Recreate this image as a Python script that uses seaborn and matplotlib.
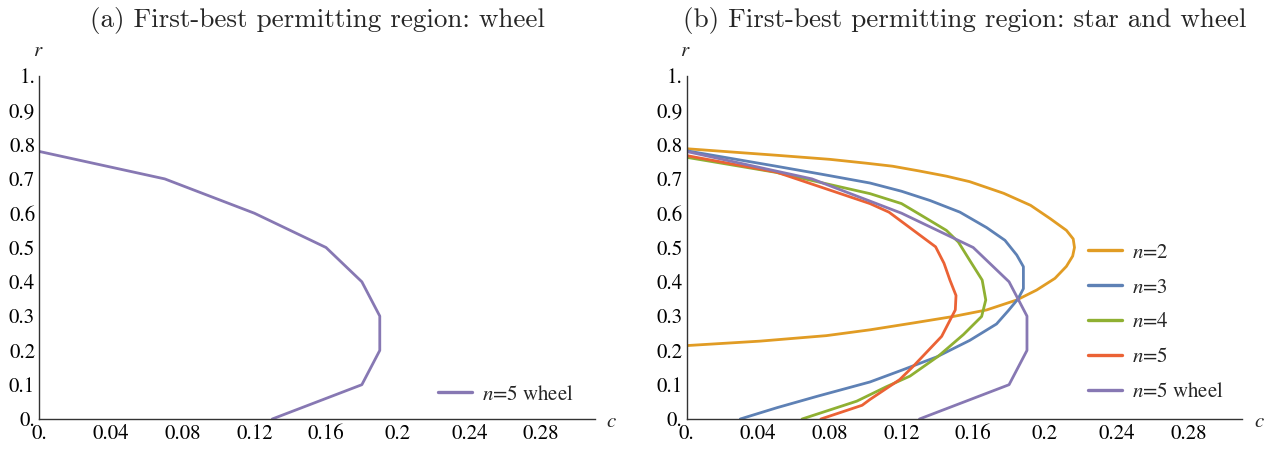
import numpy as np
import pandas as pd
import seaborn as sns
import matplotlib
matplotlib.use("Agg")
import matplotlib.pyplot as plt
from matplotlib.ticker import FixedLocator, FixedFormatter
from matplotlib.lines import Line2D

# ---------------- data ----------------
wheel_c = [0.0, 0.07, 0.12, 0.16, 0.18, 0.19, 0.19, 0.18, 0.13]
wheel_r = [0.78, 0.70, 0.60, 0.50, 0.40, 0.30, 0.20, 0.10, 0.0]

n2_c = [0.0, 0.05, 0.08, 0.10, 0.115, 0.13, 0.145, 0.158, 0.177, 0.192, 0.203, 0.212,
        0.2158, 0.2165, 0.2155, 0.212, 0.2056, 0.1954, 0.1843, 0.1675, 0.149, 0.1266,
        0.1024, 0.078, 0.041, 0.0]
n2_r = [0.788, 0.769, 0.757, 0.746, 0.737, 0.723, 0.708, 0.692, 0.658, 0.623, 0.584, 0.550,
        0.525, 0.500, 0.475, 0.445, 0.410, 0.376, 0.347, 0.318, 0.299, 0.280,
        0.260, 0.243, 0.227, 0.214]

n3_c = [0.0, 0.05, 0.075, 0.1024, 0.12, 0.1359, 0.1526, 0.1675, 0.1777, 0.1843, 0.188,
        0.188, 0.185, 0.1796, 0.173, 0.158, 0.1396, 0.121, 0.1024, 0.0728, 0.0505, 0.030]
n3_r = [0.782, 0.737, 0.714, 0.688, 0.664, 0.637, 0.603, 0.558, 0.521, 0.478, 0.444,
        0.380, 0.350, 0.316, 0.277, 0.229, 0.181, 0.144, 0.108, 0.066, 0.033, 0.0]

n4_c = [0.0, 0.05, 0.1024, 0.120, 0.130, 0.145, 0.1517, 0.158, 0.165, 0.167, 0.1647,
        0.1545, 0.1405, 0.1247, 0.1115, 0.095, 0.0645]
n4_r = [0.763, 0.719, 0.657, 0.628, 0.597, 0.550, 0.516, 0.463, 0.405, 0.347, 0.299,
        0.246, 0.183, 0.125, 0.094, 0.052, 0.0]

n5_c = [0.0, 0.05, 0.1024, 0.113, 0.139, 0.1437, 0.147, 0.1504, 0.150, 0.1424, 0.1266,
        0.119, 0.1024, 0.098, 0.075]
n5_r = [0.768, 0.720, 0.628, 0.603, 0.502, 0.454, 0.405, 0.360, 0.318, 0.241, 0.154,
        0.115, 0.057, 0.040, 0.0]

series_names = ["$n$=2", "$n$=3", "$n$=4", "$n$=5", "$n$=5 wheel"]
series_colors = ["#E19C24", "#5E81B5", "#8FB032", "#EB6235", "#8778B3"]

x_ticks = [0.0, 0.04, 0.08, 0.12, 0.16, 0.2, 0.24, 0.28]
x_tick_labels = ["0.", "0.04", "0.08", "0.12", "0.16", "0.2", "0.24", "0.28"]
y_ticks = [0.0, 0.1, 0.2, 0.3, 0.4, 0.5, 0.6, 0.7, 0.8, 0.9, 1.0]
y_tick_labels = ["0.", "0.1", "0.2", "0.3", "0.4", "0.5", "0.6", "0.7", "0.8", "0.9", "1."]

titles = ["(a) First-best permitting region: wheel",
          "(b) First-best permitting region: star and wheel"]

# ---------------- frames ----------------
def frame(name, c, r):
    return pd.DataFrame({"c": c, "r": r, "series": name, "order": np.arange(len(c))})

df_left = frame("$n$=5 wheel", wheel_c, wheel_r)
df_right = pd.concat([
    frame(series_names[0], n2_c, n2_r),
    frame(series_names[1], n3_c, n3_r),
    frame(series_names[2], n4_c, n4_r),
    frame(series_names[3], n5_c, n5_r),
    frame(series_names[4], wheel_c, wheel_r),
], ignore_index=True)

# ---------------- style ----------------
sns.set_theme(style="white")
plt.rcParams["font.family"] = ["STIXGeneral", "DejaVu Serif"]
plt.rcParams["mathtext.fontset"] = "stix"

W, H = 1276, 449
fig = plt.figure(figsize=(W / 100, H / 100), dpi=100)

ax_w = 0.31 * 1792
ax_h = 343
axL = fig.add_axes([39.3 / W, (H - 419) / H, ax_w / W, ax_h / H])
axR = fig.add_axes([686.5 / W, (H - 419) / H, ax_w / W, ax_h / H])

palette = dict(zip(series_names, series_colors))
lw = 2.0

sns.lineplot(data=df_left, x="c", y="r", hue="series", palette=palette, sort=False,
             estimator=None, ax=axL, linewidth=lw, legend=False)
sns.lineplot(data=df_right, x="c", y="r", hue="series", hue_order=series_names,
             palette=palette, sort=False, estimator=None, ax=axR, linewidth=lw, legend=False)

axis_col = "#333333"
for ax, title in zip([axL, axR], titles):
    ax.set_xlim(0, 0.31)
    ax.set_ylim(0, 1.0)
    ax.xaxis.set_major_locator(FixedLocator(x_ticks))
    ax.xaxis.set_major_formatter(FixedFormatter(x_tick_labels))
    ax.yaxis.set_major_locator(FixedLocator(y_ticks))
    ax.yaxis.set_major_formatter(FixedFormatter(y_tick_labels))
    ax.tick_params(axis="both", direction="in", length=5, width=0.8, color=axis_col,
                   labelsize=15, labelcolor="black", pad=3)
    ax.tick_params(axis="x", pad=4)
    for s in ["top", "right"]:
        ax.spines[s].set_visible(False)
    for s in ["left", "bottom"]:
        ax.spines[s].set_color(axis_col)
        ax.spines[s].set_linewidth(1.0)
    ax.set_xlabel("")
    ax.set_ylabel("")
    ax.patch.set_alpha(0)
    ax.set_title(title, fontfamily="cmr10", fontsize=19.5, pad=35)
    ax.annotate("$r$", xy=(0, 1), xycoords="axes fraction", xytext=(-1, 25),
                textcoords="offset pixels", ha="center", va="center", fontsize=15)
    ax.annotate("$c$", xy=(1, 0), xycoords="axes fraction", xytext=(17, -3),
                textcoords="offset pixels", ha="center", va="center", fontsize=15)
    for lab in ax.get_xticklabels() + ax.get_yticklabels():
        lab.set_clip_on(False)

# legends
def make_legend(ax, names, x, y):
    handles = [Line2D([], [], color=palette[n], lw=lw + 0.4) for n in names]
    leg = ax.legend(handles, names, loc="upper left", bbox_to_anchor=(x, y),
                    frameon=False, fontsize=15, handlelength=1.65, handletextpad=0.45,
                    borderpad=0, borderaxespad=0, labelspacing=0.72)
    return leg

make_legend(axL, ["$n$=5 wheel"], (438 - 39.3) / ax_w, (419 - 385) / ax_h)
make_legend(axR, series_names, (1088 - 686.5) / ax_w, (419 - 243) / ax_h)

fig.savefig("out.png", dpi=100)
